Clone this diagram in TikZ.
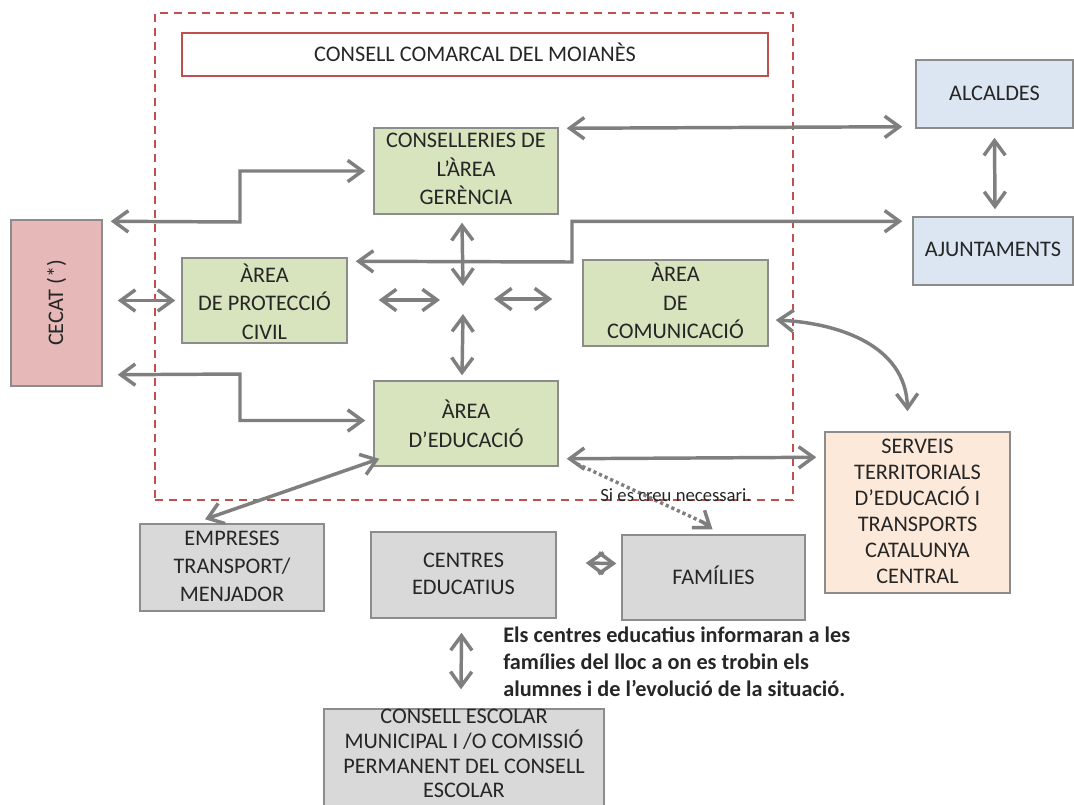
\documentclass[tikz,border=0pt]{standalone}
\usepackage{fontspec}
\setmainfont{Carlito}
\usetikzlibrary{arrows.meta,calc,fit}
\definecolor{agray}{HTML}{7F7F7F}
\definecolor{bgray}{HTML}{8C8C8C}
\definecolor{ccred}{HTML}{C0504D}
\definecolor{fgreen}{HTML}{D7E4BD}
\definecolor{fpink}{HTML}{E6B9B8}
\definecolor{fblue}{HTML}{DCE6F2}
\definecolor{fpeach}{HTML}{FDE9D9}
\definecolor{fgray}{HTML}{D9D9D9}
\definecolor{txt}{HTML}{262626}
\begin{document}
\begin{tikzpicture}[x=0.75pt,y=-0.75pt,
  box/.style={draw=bgray, line width=1.1pt, inner sep=0pt},
  green/.style={box, fill=fgreen},
  greybox/.style={box, fill=fgray},
  lbl/.style={align=center, text=txt, inner sep=0pt, font=\fontsize{16.7}{21.5}\selectfont},
  arr/.style={draw=agray, line width=2.6pt, {Straight Barb[length=11pt,width=16pt]}-{Straight Barb[length=11pt,width=16pt]}},
  onearr/.style={draw=agray, line width=2.6pt, -{Straight Barb[length=11pt,width=16pt]}},
  dotline/.style={draw=agray, line width=2.6pt, dash pattern=on 2.4pt off 2.2pt}
]
\useasboundingbox (0,0) rectangle (1074,804);
\clip (0,0) rectangle (1074,804);

% dashed frame
\node[draw=ccred, line width=1.2pt, dash pattern=on 6pt off 4.5pt, inner sep=0pt,
  fit={(155,13) (793,500)}] (frame) {};
\node[draw=ccred, line width=1.3pt, fill=white, inner sep=0pt, fit={(182,33) (768,76)}] (cc) {};
\node[lbl] (cclbl) at ($(cc.center)+(0,-2)$) {CONSELL COMARCAL DEL MOIANÈS};

% green boxes
\node[green, fit={(374,128) (558,214)}] (cons) {};
\node[lbl] (conslbl) at ($(cons.center)+(0,-2)$) {CONSELLERIES DE\\L’ÀREA\\GERÈNCIA};
\node[green, fit={(182,258) (347,343)}] (prot) {};
\node[lbl] (protlbl) at ($(prot.center)+(0,1)$) {ÀREA\\DE PROTECCIÓ\\CIVIL};
\node[green, fit={(583,260) (768,346)}] (com) {};
\node[lbl] (comlbl) at ($(com.center)+(0,-2)$) {ÀREA\\DE\\COMUNICACIÓ};
\node[green, fit={(374,381) (558,466)}] (edu) {};
\node[lbl] (edulbl) at ($(edu.center)+(0,0)$) {ÀREA\\D’EDUCACIÓ};

% CECAT
\node[box, fill=fpink, fit={(11,220) (102,386)}] (cecat) {};
\node[lbl, rotate=90] (cecatlbl) at (cecat.center) {CECAT (*)};

% right boxes
\node[box, fill=fblue, fit={(916,60) (1073,128)}] (alc) {};
\node[lbl] (alclbl) at ($(alc.center)+(0,-1)$) {ALCALDES};
\node[box, fill=fblue, fit={(913,217) (1073,285)}] (ajun) {};
\node[lbl] (ajunlbl) at ($(ajun.center)+(0,-2)$) {AJUNTAMENTS};
\node[box, fill=fpeach, fit={(825,432) (1010,593)}] (serv) {};
\node[lbl, font=\fontsize{16.7}{19.6}\selectfont] (servlbl) at ($(serv.center)+(0,-1)$)
  {SERVEIS\\TERRITORIALS\\D’EDUCACIÓ I\\TRANSPORTS\\CATALUNYA\\CENTRAL};

% grey boxes
\node[greybox, fit={(140,524) (324,611)}] (emp) {};
\node[lbl, font=\fontsize{16.7}{21}\selectfont] (emplbl) at ($(emp.center)+(0,-1)$) {EMPRESES\\TRANSPORT/\\MENJADOR};
\node[greybox, fit={(371,532) (556,618)}] (cen) {};
\node[lbl, font=\fontsize{16.7}{20.3}\selectfont] (cenlbl) at ($(cen.center)+(0,-1)$) {CENTRES\\EDUCATIUS};
\node[greybox, fit={(622,535) (805,620)}] (fam) {};
\node[lbl] (famlbl) at ($(fam.center)+(0,-2)$) {FAMÍLIES};
\node[greybox, fit={(324,709) (604,830)}] (ce) {};
\node[lbl, font=\fontsize{16.7}{18.5}\selectfont, anchor=north] (celbl)
  at ($(ce.north)+(0,1)$) {CONSELL ESCOLAR\\MUNICIPAL I /O COMISSIÓ\\PERMANENT DEL CONSELL\\ESCOLAR};

% note
\node[text=txt, align=left, anchor=west, inner sep=0pt, font=\bfseries\fontsize{16.7}{20.3}\selectfont] (note)
  at (503,662) {Els centres educatius informaran a les\\famílies del lloc a on es trobin els\\alumnes i de l’evolució de la situació.};

% connectors
\draw[arr] ($(cons.north east)+(8,1)$) -- ($(alc.south west)+(-13,-2)$);
\draw[arr] ($(cecat.north east)+(8,2)$) -- (240,222) |- ($(cons.west)+(-8,0)$);
\draw[arr] ($(prot.north east)+(8,4)$) -- (572,262) |- ($(ajun.north west)+(-10,5)$);
\draw[arr] ($(cecat.east |- prot.west)+(15,0)$) -- ($(prot.west)+(-6,0)$);
\draw[arr] ($(cecat.south east)+(15,-12)$) -- (240,374) |- ($(edu.west)+(-8,-3)$);
\coordinate (ctr) at (463,300);
\draw[arr] ($(cons.south)+(-4,8)$) -- ($(ctr)+(0,-14)$);
\draw[arr] ($(ctr)+(0,14)$) -- ($(edu.north)+(-4,-5)$);
\draw[arr] ($(prot.east |- ctr)+(31,0)$) -- ($(ctr)+(-23,0)$);
\draw[arr] ($(ctr)+(31,-1)$) -- ($(com.west |- ctr)+(-30,-1)$);
\draw[arr] ($(com.east)+(7,17)$) .. controls (838,323) and (906,345) .. ($(serv.north)+(-10,-20)$);
\draw[arr] ($(edu.south east)+(8,-8)$) -- ($(serv.north west)+(-8,26)$);
\draw[arr] ($(edu.south west)+(6,-8)$) -- ($(emp.north)+(-27,-4)$);
\draw[dotline] ($(edu.south east)+(18,-3)$) -- ($(fam.north)+(-4,-9)$);
\draw[onearr] ($(fam.north)+(-12,-13)$) -- ($(fam.north)+(-1,-5)$);
\node[text=txt, inner sep=0pt, font=\fontsize{14}{16}\selectfont] (lbl) at ($(edu.south east)+(117,28)$) {Si es creu necessari.};
\draw[arr] ($(cen.east)+(29,-12)$) -- ($(fam.west)+(-5,-14)$);
\draw[arr] ($(cen.south)+(-2,14)$) -- ($(ce.north)+(-3,-19)$);
\draw[arr] ($(alc.south)+(0,9)$) -- ($(ajun.north)+(2,-7)$);
\end{tikzpicture}
\end{document}
